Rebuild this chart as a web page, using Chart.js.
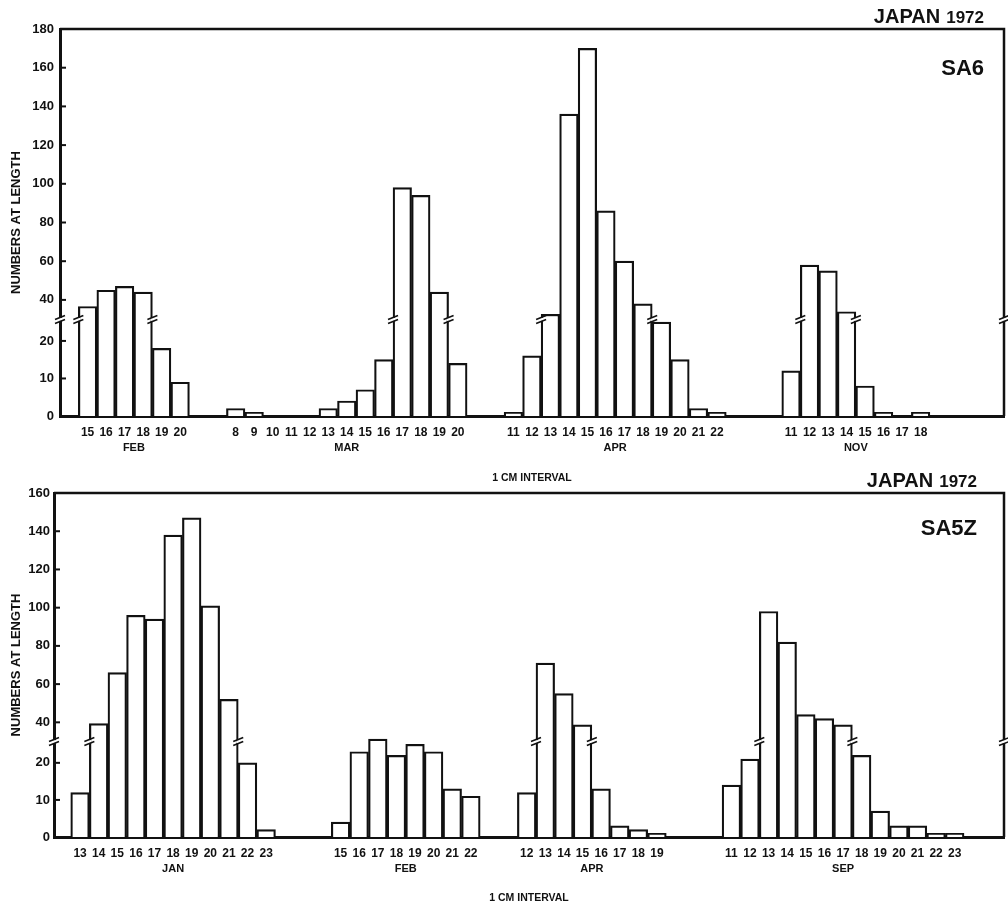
<!DOCTYPE html>
<html>
<head>
<meta charset="utf-8">
<script src="https://cdn.jsdelivr.net/npm/chart.js@4.4.1/dist/chart.umd.min.js"></script>
<style>
  html, body { margin: 0; padding: 0; background: #fff; }
  #wrap { position: relative; width: 1008px; height: 911px; overflow: hidden; }
  .panel { position: absolute; left: 0; width: 1008px; }
  #top { top: 0; height: 485px; }
  #bot { top: 470px; height: 441px; }
</style>
</head>
<body>
<div id="wrap">
  <div class="panel" id="top"><canvas id="sa6" width="1008" height="485"></canvas></div>
  <div class="panel" id="bot"><canvas id="sa5z" width="1008" height="441"></canvas></div>
</div>
<script>
// ---- SA6 (upper panel) ----
const sa6Months = ['FEB', 'MAR', 'APR', 'NOV'];
const sa6Lengths = [
  [15, 16, 17, 18, 19, 20],
  [8, 9, 10, 11, 12, 13, 14, 15, 16, 17, 18, 19, 20],
  [11, 12, 13, 14, 15, 16, 17, 18, 19, 20, 21, 22],
  [11, 12, 13, 14, 15, 16, 17, 18]
];
const sa6Counts = [
  [35, 45, 47, 44, 18, 9],
  [2, 1, 0, 0, 0, 2, 4, 7, 15, 98, 94, 44, 14],
  [1, 16, 29, 136, 170, 86, 60, 37, 25, 15, 2, 1],
  [12, 58, 55, 31, 8, 1, 0, 1]
];
const sa6Gaps = [0, 2, 2, 3];   // empty length classes before each month
const sa6YTicks = [0, 10, 20, 40, 60, 80, 100, 120, 140, 160, 180];

// ---- SA5Z (lower panel) ----
const sa5zMonths = ['JAN', 'FEB', 'APR', 'SEP'];
const sa5zLengths = [
  [13, 14, 15, 16, 17, 18, 19, 20, 21, 22, 23],
  [15, 16, 17, 18, 19, 20, 21, 22],
  [12, 13, 14, 15, 16, 17, 18, 19],
  [11, 12, 13, 14, 15, 16, 17, 18, 19, 20, 21, 22, 23]
];
const sa5zCounts = [
  [12, 39, 66, 96, 94, 138, 147, 101, 52, 20, 2],
  [4, 23, 27, 22, 25, 23, 13, 11],
  [12, 71, 55, 38, 13, 3, 2, 1],
  [14, 21, 98, 82, 44, 42, 38, 22, 7, 3, 3, 1, 1]
];
const sa5zGaps = [0, 3, 2, 3];
const sa5zYTicks = [0, 10, 20, 40, 60, 80, 100, 120, 140, 160];

// broken y axis: 0..26 stretched, 26..40 squeezed, linear above 40
const BREAK_LO = 26, BREAK_HI = 40, MARK_FROM = 28;
function squash(v) {
  if (v <= BREAK_LO) return v * 1.94;
  if (v <= BREAK_HI) return 50.5 + (v - BREAK_LO) * (9.5 / 14);
  return 60 + (v - BREAK_HI);
}
function unsquash(d) {
  if (d <= 50.5) return d / 1.94;
  if (d <= 60) return BREAK_LO + (d - 50.5) * (14 / 9.5);
  return BREAK_HI + (d - 60);
}

class BrokenScale extends Chart.LinearScale {
  getPixelForValue(value) { return super.getPixelForValue(squash(value)); }
  getValueForPixel(pixel) { return unsquash(super.getValueForPixel(pixel)); }
}
BrokenScale.id = 'broken';
BrokenScale.defaults = Chart.LinearScale.defaults;
Chart.register(BrokenScale);

Chart.defaults.font.family = '"Liberation Sans", Arial, sans-serif';
Chart.defaults.font.weight = 'bold';
Chart.defaults.color = '#111';

const INK = '#111';
const FONT = '"Liberation Sans", Arial, sans-serif';

function breakMark(ctx, px, py) {
  ctx.fillStyle = '#fff';
  ctx.fillRect(px - 2, py - 0.5, 4, 3);
  ctx.beginPath();
  ctx.moveTo(px - 5, py + 1); ctx.lineTo(px + 5, py - 3);
  ctx.moveTo(px - 5, py + 5); ctx.lineTo(px + 5, py + 1);
  ctx.stroke();
}

const decorations = {
  id: 'decorations',
  afterDraw(chart, args, o) {
    const { ctx, chartArea: a, scales: { x, y } } = chart;
    ctx.save();
    ctx.strokeStyle = INK;

    // top and right frame
    ctx.lineWidth = 2.5;
    ctx.beginPath();
    ctx.moveTo(a.left, a.top); ctx.lineTo(a.right, a.top); ctx.lineTo(a.right, a.bottom);
    ctx.stroke();

    // inward tick marks
    ctx.lineWidth = 2;
    y.ticks.forEach(t => {
      const py = y.getPixelForValue(t.value);
      ctx.beginPath(); ctx.moveTo(a.left, py); ctx.lineTo(a.left + 6, py); ctx.stroke();
    });

    // break marks on the axes and on bars crossing the break
    const by = y.getPixelForValue(BREAK_LO);
    ctx.lineWidth = 1.6;
    breakMark(ctx, a.left, by);
    breakMark(ctx, a.right, by);
    o.groups.forEach(g => {
      g.counts.forEach((v, i) => {
        if (v < MARK_FROM) return;
        const u = g.start + i;
        if (i === 0 || g.counts[i - 1] < MARK_FROM) breakMark(ctx, x.getPixelForValue(u - 0.5), by);
        if (i === g.counts.length - 1 || g.counts[i + 1] < MARK_FROM) breakMark(ctx, x.getPixelForValue(u + 0.5), by);
      });
    });

    // month names under each group
    ctx.fillStyle = INK;
    ctx.font = 'bold 11px ' + FONT;
    ctx.textAlign = 'center';
    ctx.textBaseline = 'middle';
    o.groups.forEach(g => {
      const cx = (x.getPixelForValue(g.start - 0.5) + x.getPixelForValue(g.start + g.counts.length - 0.5)) / 2;
      ctx.fillText(g.month, cx, a.bottom + 32);
    });

    // headings
    ctx.textAlign = 'right';
    ctx.textBaseline = 'alphabetic';
    ctx.font = 'bold 17px ' + FONT;
    ctx.fillText('1972', o.headRight, o.headY);
    const w = ctx.measureText('1972').width;
    ctx.font = 'bold 20px ' + FONT;
    ctx.fillText('JAPAN', o.headRight - w - 6, o.headY);
    ctx.font = 'bold 22px ' + FONT;
    ctx.fillText(o.code, o.headRight, o.codeY);
    ctx.restore();
  }
};

function makePanel(id, p) {
  const groups = [];
  const points = [];
  const tickLabel = new Map();
  let next = 0;
  p.months.forEach((m, gi) => {
    const start = next + p.gaps[gi];
    groups.push({ month: m, start: start, counts: p.counts[gi] });
    p.counts[gi].forEach((v, i) => {
      points.push({ x: start + i, y: v });
      tickLabel.set(start + i, String(p.lengths[gi][i]));
    });
    next = start + p.counts[gi].length;
  });

  new Chart(document.getElementById(id), {
    type: 'bar',
    data: {
      datasets: [{
        data: points,
        backgroundColor: '#fff',
        borderColor: INK,
        borderWidth: 2.2,
        barPercentage: 1,
        categoryPercentage: 1
      }]
    },
    options: {
      responsive: false,
      animation: false,
      layout: { padding: { top: p.padTop, right: 4, left: 0, bottom: 0 } },
      plugins: {
        legend: { display: false },
        tooltip: { enabled: false },
        decorations: { groups: groups, code: p.code, headRight: p.headRight, headY: p.headY, codeY: p.codeY }
      },
      scales: {
        x: {
          type: 'linear',
          min: p.xMin,
          max: p.xMax,
          grid: { display: false, drawTicks: false },
          border: { display: true, color: INK, width: 3 },
          afterBuildTicks: s => { s.ticks = points.map(pt => ({ value: pt.x })); },
          afterFit: s => { s.height = p.xAxisHeight; },
          ticks: {
            autoSkip: false, maxRotation: 0, minRotation: 0, padding: 9,
            font: { size: 12, weight: 'bold' },
            callback: v => tickLabel.get(v) || ''
          },
          title: {
            display: true, text: '1 CM INTERVAL',
            font: { size: 10.5, weight: 'bold' },
            padding: { top: 0, bottom: p.xTitlePad }
          }
        },
        y: {
          type: 'broken',
          min: 0,
          max: squash(p.yTicks[p.yTicks.length - 1]),
          grid: { display: false, drawTicks: false },
          border: { display: true, color: INK, width: 3 },
          afterBuildTicks: s => { s.ticks = p.yTicks.map(v => ({ value: v })); },
          afterFit: s => { s.width = p.yAxisWidth; },
          ticks: {
            padding: p.yLabelPad,
            font: { size: 13, weight: 'bold' },
            callback: v => String(v)
          },
          title: {
            display: true, text: 'NUMBERS AT LENGTH',
            font: { size: 13, weight: 'bold' },
            padding: { top: 9, bottom: 0 }
          }
        }
      }
    },
    plugins: [decorations]
  });
}

makePanel('sa6', {
  months: sa6Months, lengths: sa6Lengths, counts: sa6Counts, gaps: sa6Gaps, yTicks: sa6YTicks,
  code: 'SA6', padTop: 29, yAxisWidth: 60, xAxisHeight: 69, xTitlePad: 1, yLabelPad: 6,
  xMin: -0.837, xMax: 48.85, headRight: 984, headY: 23, codeY: 75
});

makePanel('sa5z', {
  months: sa5zMonths, lengths: sa5zLengths, counts: sa5zCounts, gaps: sa5zGaps, yTicks: sa5zYTicks,
  code: 'SA5Z', padTop: 23, yAxisWidth: 54, xAxisHeight: 74, xTitlePad: 7, yLabelPad: 4,
  xMin: -0.762, xMax: 49.01, headRight: 977, headY: 17, codeY: 65
});
</script>
</body>
</html>
